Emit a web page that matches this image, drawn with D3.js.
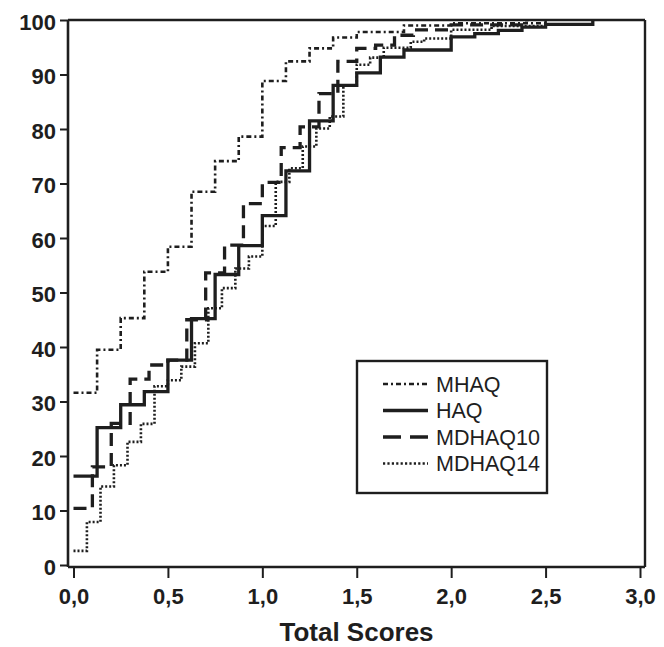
<!DOCTYPE html>
<html>
<head>
<meta charset="utf-8">
<script src="https://cdn.jsdelivr.net/npm/d3@7/dist/d3.min.js"></script>
<style>
  html, body { margin: 0; padding: 0; background: #fff; }
  svg { display: block; }
</style>
</head>
<body>
<svg id="chart" width="664" height="647"></svg>
<script>
// ---- data ----
const seriesNames = ["MHAQ", "HAQ", "MDHAQ10", "MDHAQ14"];

const mhaqScores = [0, 0.125, 0.25, 0.375, 0.5, 0.625, 0.75, 0.875, 1.0, 1.125, 1.25, 1.375, 1.5, 1.75, 2.0, 2.5];
const mhaqPct    = [31.6, 39.5, 45.3, 53.8, 58.4, 68.5, 74.1, 78.6, 88.8, 92.4, 94.8, 96.8, 97.8, 99.0, 99.4, 100];

const haqScores = [0, 0.125, 0.25, 0.375, 0.5, 0.625, 0.75, 0.875, 1.0, 1.125, 1.25, 1.375, 1.5, 1.625, 1.75, 2.0, 2.125, 2.25, 2.375, 2.5, 2.75];
const haqPct    = [16.3, 25.2, 29.4, 31.8, 37.6, 45.2, 53.3, 58.6, 64.1, 72.3, 81.5, 88.0, 90.3, 93.2, 94.5, 96.9, 97.5, 98.1, 98.7, 99.2, 100];

const mdhaq10Scores = [0, 0.1, 0.2, 0.3, 0.4, 0.5, 0.6, 0.7, 0.8, 0.9, 1.0, 1.1, 1.2, 1.3, 1.4, 1.5, 1.6, 1.7, 1.8, 2.0, 2.4];
const mdhaq10Pct    = [10.4, 18.0, 26.0, 34.1, 36.7, 37.6, 45.0, 53.6, 58.7, 66.3, 70.2, 76.6, 80.4, 86.5, 92.4, 94.8, 95.4, 97.2, 98.2, 99.1, 100];

const mdhaq14Scores = [0, 0.071, 0.143, 0.214, 0.286, 0.357, 0.429, 0.5, 0.571, 0.643, 0.714, 0.786, 0.857, 0.929, 1.0, 1.071, 1.143, 1.214, 1.286, 1.357, 1.429, 1.5, 1.571, 1.643, 1.786, 1.857, 2.0, 2.214, 2.5];
const mdhaq14Pct    = [2.6, 7.9, 14.4, 18.3, 22.6, 25.9, 32.8, 33.9, 36.4, 40.7, 47.1, 50.8, 54.4, 56.6, 62.2, 70.3, 72.8, 76.8, 80.1, 82.3, 88.0, 91.8, 93.1, 94.9, 96.0, 96.6, 98.2, 98.9, 100];

const xTicks = [0, 0.5, 1.0, 1.5, 2.0, 2.5, 3.0];
const xTickLabels = ["0,0", "0,5", "1,0", "1,5", "2,0", "2,5", "3,0"];
const yTicks = [0, 10, 20, 30, 40, 50, 60, 70, 80, 90, 100];
const xTitle = "Total Scores";

// ---- layout ----
const svg = d3.select("#chart");
const ink = "#1e1e1e";
const frame = { left: 68, right: 645, top: 20, bottom: 567 };
const x = d3.scaleLinear().domain([0, 3]).range([73.5, 640]);
const y = d3.scaleLinear().domain([0, 100]).range([565, 20]);

const styles = {
  "MHAQ":    { width: 2.6, dash: "5,3,2,3", legendDash: "5,3,2,3" },
  "HAQ":     { width: 3.3, dash: null, legendDash: null },
  "MDHAQ10": { width: 3.3, dash: "13,7", legendDash: "18,9" },
  "MDHAQ14": { width: 2.6, dash: "2,2", legendDash: "2.2,2.2" }
};

const seriesData = {
  "MHAQ": mhaqScores.map((s, i) => [s, mhaqPct[i]]),
  "HAQ": haqScores.map((s, i) => [s, haqPct[i]]),
  "MDHAQ10": mdhaq10Scores.map((s, i) => [s, mdhaq10Pct[i]]),
  "MDHAQ14": mdhaq14Scores.map((s, i) => [s, mdhaq14Pct[i]])
};

// ---- frame ----
const g = svg.append("g");
g.append("line").attr("x1", frame.left).attr("x2", frame.right).attr("y1", frame.top).attr("y2", frame.top)
  .attr("stroke", ink).attr("stroke-width", 2.6);
g.append("line").attr("x1", frame.right).attr("x2", frame.right).attr("y1", frame.top).attr("y2", frame.bottom)
  .attr("stroke", ink).attr("stroke-width", 2.4);

// ---- curves ----
const line = d3.line().x(d => x(d[0])).y(d => y(d[1])).curve(d3.curveStepAfter);
["MDHAQ14", "MHAQ", "MDHAQ10", "HAQ"].forEach(name => {
  const st = styles[name];
  g.append("path")
    .datum(seriesData[name])
    .attr("d", line)
    .attr("fill", "none")
    .attr("stroke", ink)
    .attr("stroke-width", st.width)
    .attr("stroke-dasharray", st.dash)
    .attr("stroke-linejoin", "miter")
    .attr("stroke-linecap", "butt");
});

// ---- axes ----
const yAxis = d3.axisLeft(y).tickValues(yTicks).tickSize(8).tickPadding(4);
const yg = svg.append("g").attr("transform", `translate(${frame.left},0)`).call(yAxis);
yg.select(".domain").remove();
yg.append("line").attr("x1", 0).attr("x2", 0).attr("y1", frame.top).attr("y2", frame.bottom)
  .attr("stroke", ink).attr("stroke-width", 2.6);
yg.selectAll(".tick line").attr("stroke", ink).attr("stroke-width", 2);
yg.selectAll(".tick text")
  .attr("fill", ink)
  .style("font-family", "'Liberation Sans', Arial, sans-serif")
  .style("font-weight", "bold")
  .style("font-size", "22px")
  .attr("dy", "0.42em");

const xAxis = d3.axisBottom(x).tickValues(xTicks).tickSize(11).tickPadding(6)
  .tickFormat((d, i) => xTickLabels[i]);
const xg = svg.append("g").attr("transform", `translate(0,${frame.bottom})`).call(xAxis);
xg.select(".domain").remove();
xg.append("line").attr("x1", frame.left).attr("x2", frame.right).attr("y1", 0).attr("y2", 0)
  .attr("stroke", ink).attr("stroke-width", 2.6);
xg.selectAll(".tick line").attr("stroke", ink).attr("stroke-width", 2);
xg.selectAll(".tick text")
  .attr("fill", ink)
  .style("font-family", "'Liberation Sans', Arial, sans-serif")
  .style("font-weight", "bold")
  .style("font-size", "22px")
  .attr("y", 0).attr("dy", 0)
  .attr("transform", "translate(0,37)");

svg.append("text")
  .attr("x", (frame.left + frame.right) / 2)
  .attr("y", 641)
  .attr("text-anchor", "middle")
  .attr("fill", ink)
  .style("font-family", "'Liberation Sans', Arial, sans-serif")
  .style("font-weight", "bold")
  .style("font-size", "26px")
  .text(xTitle);

// ---- legend ----
const lg = svg.append("g");
lg.append("rect").attr("x", 357).attr("y", 361).attr("width", 190).attr("height", 132)
  .attr("fill", "#fff").attr("stroke", ink).attr("stroke-width", 2.4);
seriesNames.forEach((name, i) => {
  const st = styles[name];
  const cy = 384 + i * 26.5;
  lg.append("line").attr("x1", 383).attr("x2", 428).attr("y1", cy).attr("y2", cy)
    .attr("stroke", ink).attr("stroke-width", st.width)
    .attr("stroke-dasharray", st.legendDash);
  lg.append("text").attr("x", 436).attr("y", cy + 7.5)
    .attr("fill", ink)
    .style("font-family", "'Liberation Sans', Arial, sans-serif")
    .style("font-size", "21.5px")
    .text(name);
});
</script>
</body>
</html>
